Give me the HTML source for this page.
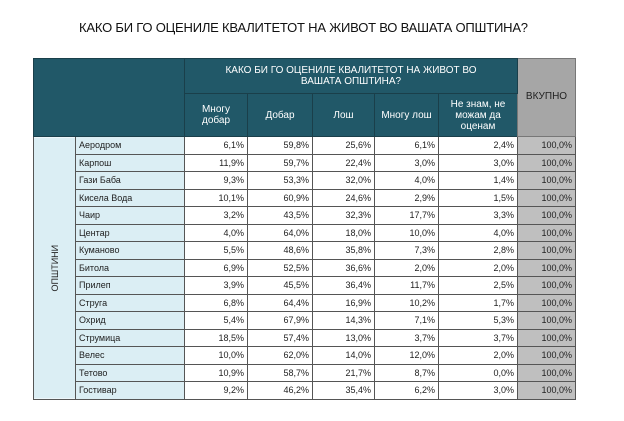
<!DOCTYPE html>
<html><head><meta charset="utf-8"><style>
body{margin:0;background:#fff;width:624px;height:421px;overflow:hidden;font-family:"Liberation Sans",sans-serif;}
.t{position:absolute;left:79px;top:20px;font-size:13px;color:#111;white-space:nowrap;letter-spacing:-0.2px}
table{position:absolute;left:33px;top:58px;border-collapse:collapse;table-layout:fixed;font-size:9px;color:#222}
td{border:1px solid #555;padding:0 3px;overflow:hidden;white-space:nowrap}
.h{background:#215868;color:#fff;text-align:center;white-space:normal;line-height:11px;border-color:#1a3f4a;font-size:10px}
.hw{padding:0 22px}
.hs{padding:0 8px}
.g{background:#a6a6a6;text-align:center;border-color:#777;font-size:10px;vertical-align:top;padding-top:32px}
.c{background:#dbeef4}
.n{text-align:right}
.tot{background:#bfbfbf;text-align:right}
tr.d td{height:16.5px}
.v{writing-mode:vertical-rl;transform:rotate(180deg);text-align:center;background:#dbeef4}
</style></head><body>
<div class="t">КАКО БИ ГО ОЦЕНИЛЕ КВАЛИТЕТОТ НА ЖИВОТ ВО ВАШАТА ОПШТИНА?</div>
<table>
<colgroup><col style="width:42px"><col style="width:109px"><col style="width:63px"><col style="width:65px"><col style="width:62px"><col style="width:64px"><col style="width:79px"><col style="width:58px"></colgroup>
<tr style="height:35px"><td class="h" colspan="2" rowspan="2"></td><td class="h hw" colspan="5">КАКО БИ ГО ОЦЕНИЛЕ КВАЛИТЕТОТ НА ЖИВОТ ВО ВАШАТА ОПШТИНА?</td><td class="g" rowspan="2">ВКУПНО</td></tr>
<tr style="height:43px"><td class="h hs">Многу добар</td><td class="h">Добар</td><td class="h">Лош</td><td class="h">Многу лош</td><td class="h hs">Не знам, не можам да оценам</td></tr>
<tr class="d"><td class="v" rowspan="15">ОПШТИНИ</td><td class="c">Аеродром</td><td class="n">6,1%</td><td class="n">59,8%</td><td class="n">25,6%</td><td class="n">6,1%</td><td class="n">2,4%</td><td class="tot">100,0%</td></tr>
<tr class="d"><td class="c">Карпош</td><td class="n">11,9%</td><td class="n">59,7%</td><td class="n">22,4%</td><td class="n">3,0%</td><td class="n">3,0%</td><td class="tot">100,0%</td></tr>
<tr class="d"><td class="c">Гази Баба</td><td class="n">9,3%</td><td class="n">53,3%</td><td class="n">32,0%</td><td class="n">4,0%</td><td class="n">1,4%</td><td class="tot">100,0%</td></tr>
<tr class="d"><td class="c">Кисела Вода</td><td class="n">10,1%</td><td class="n">60,9%</td><td class="n">24,6%</td><td class="n">2,9%</td><td class="n">1,5%</td><td class="tot">100,0%</td></tr>
<tr class="d"><td class="c">Чаир</td><td class="n">3,2%</td><td class="n">43,5%</td><td class="n">32,3%</td><td class="n">17,7%</td><td class="n">3,3%</td><td class="tot">100,0%</td></tr>
<tr class="d"><td class="c">Центар</td><td class="n">4,0%</td><td class="n">64,0%</td><td class="n">18,0%</td><td class="n">10,0%</td><td class="n">4,0%</td><td class="tot">100,0%</td></tr>
<tr class="d"><td class="c">Куманово</td><td class="n">5,5%</td><td class="n">48,6%</td><td class="n">35,8%</td><td class="n">7,3%</td><td class="n">2,8%</td><td class="tot">100,0%</td></tr>
<tr class="d"><td class="c">Битола</td><td class="n">6,9%</td><td class="n">52,5%</td><td class="n">36,6%</td><td class="n">2,0%</td><td class="n">2,0%</td><td class="tot">100,0%</td></tr>
<tr class="d"><td class="c">Прилеп</td><td class="n">3,9%</td><td class="n">45,5%</td><td class="n">36,4%</td><td class="n">11,7%</td><td class="n">2,5%</td><td class="tot">100,0%</td></tr>
<tr class="d"><td class="c">Струга</td><td class="n">6,8%</td><td class="n">64,4%</td><td class="n">16,9%</td><td class="n">10,2%</td><td class="n">1,7%</td><td class="tot">100,0%</td></tr>
<tr class="d"><td class="c">Охрид</td><td class="n">5,4%</td><td class="n">67,9%</td><td class="n">14,3%</td><td class="n">7,1%</td><td class="n">5,3%</td><td class="tot">100,0%</td></tr>
<tr class="d"><td class="c">Струмица</td><td class="n">18,5%</td><td class="n">57,4%</td><td class="n">13,0%</td><td class="n">3,7%</td><td class="n">3,7%</td><td class="tot">100,0%</td></tr>
<tr class="d"><td class="c">Велес</td><td class="n">10,0%</td><td class="n">62,0%</td><td class="n">14,0%</td><td class="n">12,0%</td><td class="n">2,0%</td><td class="tot">100,0%</td></tr>
<tr class="d"><td class="c">Тетово</td><td class="n">10,9%</td><td class="n">58,7%</td><td class="n">21,7%</td><td class="n">8,7%</td><td class="n">0,0%</td><td class="tot">100,0%</td></tr>
<tr class="d"><td class="c">Гостивар</td><td class="n">9,2%</td><td class="n">46,2%</td><td class="n">35,4%</td><td class="n">6,2%</td><td class="n">3,0%</td><td class="tot">100,0%</td></tr>
</table>
</body></html>
